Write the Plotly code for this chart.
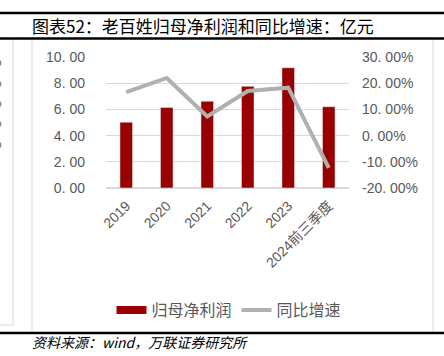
import plotly.graph_objects as go

categories = ["2019", "2020", "2021", "2022", "2023", "2024前三季度"]
net_profit = [5.02, 6.14, 6.62, 7.76, 9.18, 6.20]
yoy_growth = [16.6, 22.0, 7.3, 17.0, 18.3, -12.3]
left_ticks = [0, 2, 4, 6, 8, 10]
left_ticktext = ["0. 00", "2. 00", "4. 00", "6. 00", "8. 00", "10. 00"]
right_ticks = [-20, -10, 0, 10, 20, 30]
right_ticktext = ["-20. 00%", "-10. 00%", "0. 00%", "10. 00%", "20. 00%", "30. 00%"]

W, H = 444, 356
L, R, T, B = 106, 95, 57, 168
PW, PH = W - L - R, H - T - B

def px(x):
    return (x - L) / PW

def py(y):
    return (H - B - y) / PH

BAR_COLOR = "#990000"
LINE_COLOR = "#b0b0b0"
TEXT_COLOR = "#595959"
FONT = "Liberation Sans, Noto Sans CJK SC"
CJK = "Noto Sans CJK SC"

fig = go.Figure()
fig.add_trace(go.Bar(x=categories, y=net_profit, marker_color=BAR_COLOR,
                     name="归母净利润", showlegend=False, yaxis="y"))
fig.add_trace(go.Scatter(x=categories, y=yoy_growth, mode="lines",
                         line=dict(color=LINE_COLOR, width=4),
                         name="同比增速", showlegend=False, yaxis="y2"))
# legend entries
fig.add_trace(go.Scatter(x=[None], y=[None], mode="lines",
                         line=dict(color=BAR_COLOR, width=8), name="归母净利润"))
fig.add_trace(go.Scatter(x=[None], y=[None], mode="lines",
                         line=dict(color=LINE_COLOR, width=4), name="同比增速"))

shapes = []
def hline(y, x0, x1, color, width):
    shapes.append(dict(type="line", xref="paper", yref="paper",
                       x0=px(x0), x1=px(x1), y0=py(y), y1=py(y),
                       line=dict(color=color, width=width)))
def vline(x, y0, y1, color, width):
    shapes.append(dict(type="line", xref="paper", yref="paper",
                       x0=px(x), x1=px(x), y0=py(y0), y1=py(y1),
                       line=dict(color=color, width=width)))

vline(13, 39, 325, "#d9d9d9", 1)
hline(325, 0, 13, "#d9d9d9", 1)
vline(32, 39, 333, "#d9d9d9", 1)
vline(433, 39, 333, "#d9d9d9", 1)
hline(13, 0, 444, "#000000", 2.5)
hline(38.5, 0, 444, "#000000", 2.5)
hline(333, 0, 444, "#000000", 2.5)

annotations = [
    dict(text="图表52：老百姓归母净利润和同比增速：亿元", xref="paper", yref="paper",
         x=px(30), y=py(25), xanchor="left", yanchor="middle", showarrow=False,
         font=dict(family=CJK, size=17, color="#000000")),
    dict(text="<i>资料来源：wind，万联证券研究所</i>", xref="paper", yref="paper",
         x=px(30), y=py(342), xanchor="left", yanchor="middle", showarrow=False,
         font=dict(family=CJK, size=14, color="#000000")),
]
for yy in [62, 82, 102, 122, 143]:
    annotations.append(dict(text="%", xref="paper", yref="paper", x=px(4), y=py(yy),
                            xanchor="right", yanchor="middle", showarrow=False,
                            font=dict(family=FONT, size=13, color=TEXT_COLOR)))

fig.update_layout(
    width=W, height=H,
    margin=dict(l=L, r=R, t=T, b=B, pad=0),
    paper_bgcolor="white", plot_bgcolor="white",
    bargap=0.69,
    font=dict(family=FONT, color=TEXT_COLOR, size=14),
    xaxis=dict(type="category", tickangle=-45, showgrid=False, showline=False,
               ticks="", ticklabelstandoff=6,
               tickfont=dict(family=FONT, size=14, color=TEXT_COLOR)),
    yaxis=dict(range=[0, 10], tickvals=left_ticks, ticktext=left_ticktext,
               showgrid=True, gridcolor="#d9d9d9", gridwidth=1,
               zeroline=True, zerolinecolor="#d9d9d9", showline=False,
               ticklabelstandoff=20,
               tickfont=dict(family=FONT, size=14, color=TEXT_COLOR)),
    yaxis2=dict(range=[-20, 30], tickvals=right_ticks, ticktext=right_ticktext,
                overlaying="y", side="right", showgrid=False, zeroline=False,
                showline=False, ticklabelstandoff=12,
                tickfont=dict(family=FONT, size=14, color=TEXT_COLOR)),
    legend=dict(orientation="h", x=px(229), y=py(310), xanchor="center",
                yanchor="middle", font=dict(family=CJK, size=16, color=TEXT_COLOR),
                itemwidth=30, bgcolor="rgba(0,0,0,0)"),
    shapes=shapes,
    annotations=annotations,
)

fig.write_html("out.html", config={"displayModeBar": False},
               post_script="document.body.style.margin='0';")
